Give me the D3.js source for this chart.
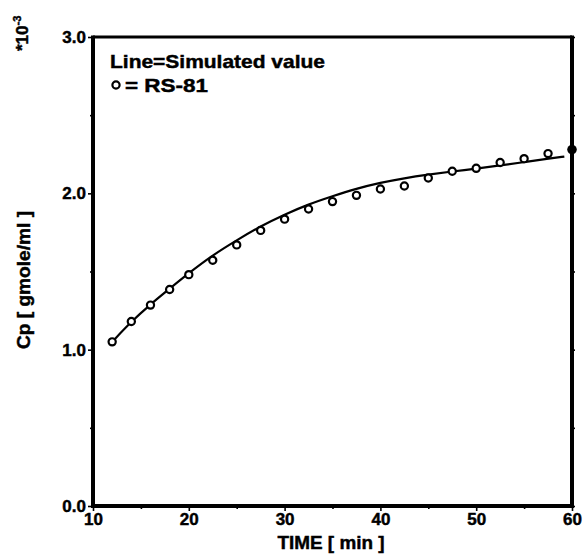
<!DOCTYPE html>
<html>
<head>
<meta charset="utf-8">
<script src="https://cdn.jsdelivr.net/npm/d3@7"></script>
<style>
  body { margin: 0; background: #fff; }
  text { font-family: "Liberation Sans", Arial, sans-serif; font-weight: bold; fill: #000; stroke: #000; stroke-width: 0.45px; }
</style>
</head>
<body>
<svg id="chart" width="583" height="556"></svg>
<script>
// Measured concentration, RS-81
const timeMeasured = [12, 14, 16, 18, 20, 22.5, 25, 27.5, 30, 32.5, 35, 37.5, 40, 42.5, 45, 47.5, 50, 52.5, 55, 57.5];
const cpMeasured   = [1.05, 1.18, 1.285, 1.385, 1.48, 1.572, 1.67, 1.763, 1.835, 1.9, 1.947, 1.987, 2.028, 2.047, 2.098, 2.141, 2.16, 2.197, 2.222, 2.254];

// Simulated curve
const timeSim = [12, 14, 16, 18, 20, 22.5, 25, 27.5, 30, 32.5, 35, 37.5, 40, 42.5, 45, 47.5, 50, 52.5, 55, 57.5, 59.2];
const cpSim   = [1.05, 1.18, 1.29, 1.39, 1.49, 1.605, 1.70, 1.79, 1.865, 1.93, 1.982, 2.03, 2.068, 2.097, 2.12, 2.14, 2.158, 2.178, 2.20, 2.222, 2.235];

// Final value marked on the right edge
const endTime = [60];
const endCp   = [2.28];

// Axis ticks
const xTicks = [10, 20, 30, 40, 50, 60];
const xMinorTicks = [15, 25, 35, 45, 55];
const yTicks = [0, 1, 2, 3];
const yMinorTicks = [0.5, 1.5, 2.5];

const svg = d3.select("#chart");

const plotLeft = 93, plotRight = 572, plotTop = 37, plotBottom = 506;
const x = d3.scaleLinear().domain([10, 60]).range([plotLeft, plotRight]);
const y = d3.scaleLinear().domain([0, 3]).range([plotBottom, plotTop]);

// Bottom axis
svg.append("g").attr("transform", `translate(0,${plotBottom})`)
  .call(d3.axisBottom(x).tickValues(xTicks).tickFormat(d3.format("d")).tickSize(5).tickPadding(2));
svg.append("g").attr("transform", `translate(0,${plotBottom})`)
  .call(d3.axisBottom(x).tickValues(xMinorTicks).tickFormat("").tickSize(3));

// Left axis
svg.append("g").attr("transform", `translate(${plotLeft},0)`)
  .call(d3.axisLeft(y).tickValues(yTicks).tickFormat(d3.format(".1f")).tickSize(5).tickPadding(2));
svg.append("g").attr("transform", `translate(${plotLeft},0)`)
  .call(d3.axisLeft(y).tickValues(yMinorTicks).tickFormat("").tickSize(3));

// Right axis ticks
svg.append("g").attr("transform", `translate(${plotRight},0)`)
  .call(d3.axisRight(y).tickValues(yTicks.concat(yMinorTicks)).tickFormat("").tickSize(3));

svg.selectAll(".domain").remove();
svg.selectAll(".tick line").attr("stroke", "#000").attr("stroke-width", 1.6);
svg.selectAll(".tick text")
  .attr("font-size", null).attr("font-family", null)
  .style("font-size", "17px").style("font-family", "'Liberation Sans', Arial, sans-serif")
  .style("font-weight", "bold").attr("fill", "#000");

// Frame
svg.append("path")
  .attr("d", `M${plotLeft},${plotTop}H${plotRight}`)
  .attr("stroke", "#000").attr("stroke-width", 3).attr("fill", "none");
svg.append("path")
  .attr("d", `M${plotLeft},${plotTop - 1.5}V${plotBottom}H${plotRight}V${plotTop - 1.5}`)
  .attr("stroke", "#000").attr("stroke-width", 4).attr("fill", "none");

// Simulated line
const simData = timeSim.map((t, i) => [t, cpSim[i]]);
svg.append("path")
  .datum(simData)
  .attr("d", d3.line().x(d => x(d[0])).y(d => y(d[1])).curve(d3.curveBasis))
  .attr("fill", "none").attr("stroke", "#000").attr("stroke-width", 2.2);

// Measured points
const measData = timeMeasured.map((t, i) => [t, cpMeasured[i]]);
svg.append("g").selectAll("circle")
  .data(measData).join("circle")
  .attr("cx", d => x(d[0])).attr("cy", d => y(d[1])).attr("r", 3.6)
  .attr("fill", "#fff").attr("stroke", "#000").attr("stroke-width", 2.2);

// End marker
svg.append("g").selectAll("circle")
  .data(endTime.map((t, i) => [t, endCp[i]])).join("circle")
  .attr("cx", d => x(d[0])).attr("cy", d => y(d[1])).attr("r", 4.8)
  .attr("fill", "#000");

// Legend
svg.append("text").attr("x", 110).attr("y", 68)
  .attr("textLength", 215).attr("lengthAdjust", "spacingAndGlyphs")
  .style("font-size", "19px").text("Line=Simulated value");
svg.append("circle").attr("cx", 116).attr("cy", 85).attr("r", 3.6)
  .attr("fill", "#fff").attr("stroke", "#000").attr("stroke-width", 2.2);
svg.append("text").attr("x", 125).attr("y", 92)
  .attr("textLength", 83).attr("lengthAdjust", "spacingAndGlyphs")
  .style("font-size", "19px").text("= RS-81");

// Axis titles
svg.append("text").attr("x", 331).attr("y", 549).attr("text-anchor", "middle")
  .attr("textLength", 107).attr("lengthAdjust", "spacingAndGlyphs")
  .style("font-size", "19px").text("TIME [ min ]");

svg.append("text").attr("transform", "translate(30,280) rotate(-90)").attr("text-anchor", "middle")
  .attr("textLength", 138).attr("lengthAdjust", "spacingAndGlyphs")
  .style("font-size", "18px").text("Cp [ gmole/ml ]");

// Scale factor
const sf = svg.append("text").attr("transform", "translate(28,51) rotate(-90)").style("font-size", "17px");
sf.append("tspan").text("*10");
sf.append("tspan").attr("dy", -7).style("font-size", "11px").text("-3");
</script>
</body>
</html>
